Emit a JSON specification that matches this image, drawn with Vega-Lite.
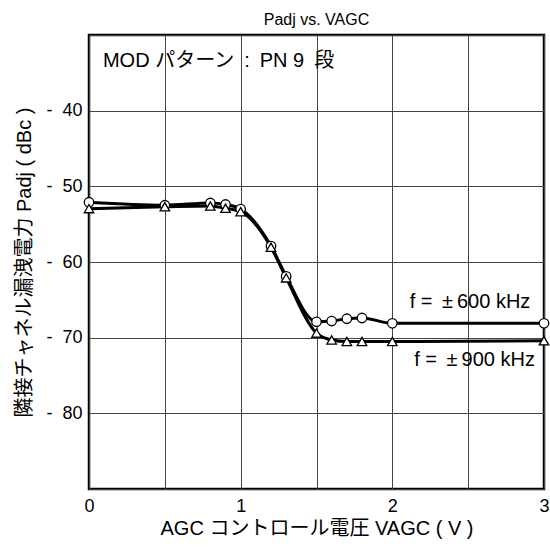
{
  "$schema": "https://vega.github.io/schema/vega-lite/v6.json",
  "autosize": {"type": "none"},
  "padding": {"left": 89, "top": 35, "right": 6, "bottom": 61},
  "width": 455,
  "height": 454,
  "title": {"text": "Padj vs. VAGC", "fontSize": 16, "fontWeight": "normal", "font": "Liberation Sans", "color": "#000", "offset": 7},
  "config": {
    "font": "Liberation Sans, Noto Sans CJK JP",
    "view": {"stroke": "#000", "strokeWidth": 2.5},
    "axis": {"domain": false, "ticks": false, "gridColor": "#444", "gridOpacity": 1, "gridWidth": 1, "labelFont": "Liberation Sans", "labelFontSize": 18, "labelColor": "#000", "titleFont": "Liberation Sans, Noto Sans CJK JP", "titleFontSize": 20, "titleFontWeight": "normal", "titleColor": "#000"}
  },
  "datasets": {
    "curves": [
      {"v": 0.0, "p": -52.1, "s": "600"},
      {"v": 0.5, "p": -52.5, "s": "600"},
      {"v": 0.8, "p": -52.2, "s": "600"},
      {"v": 0.9, "p": -52.4, "s": "600"},
      {"v": 1.0, "p": -53.0, "s": "600"},
      {"v": 1.2, "p": -57.9, "s": "600"},
      {"v": 1.3, "p": -61.9, "s": "600"},
      {"v": 1.5, "p": -67.9, "s": "600"},
      {"v": 1.6, "p": -67.8, "s": "600"},
      {"v": 1.7, "p": -67.5, "s": "600"},
      {"v": 1.8, "p": -67.4, "s": "600"},
      {"v": 2.0, "p": -68.1, "s": "600"},
      {"v": 3.0, "p": -68.1, "s": "600"},
      {"v": 0.0, "p": -52.95, "s": "900"},
      {"v": 0.5, "p": -52.7, "s": "900"},
      {"v": 0.8, "p": -52.6, "s": "900"},
      {"v": 0.9, "p": -52.9, "s": "900"},
      {"v": 1.0, "p": -53.35, "s": "900"},
      {"v": 1.2, "p": -58.05, "s": "900"},
      {"v": 1.3, "p": -62.1, "s": "900"},
      {"v": 1.5, "p": -69.4, "s": "900"},
      {"v": 1.6, "p": -70.3, "s": "900"},
      {"v": 1.7, "p": -70.5, "s": "900"},
      {"v": 1.8, "p": -70.5, "s": "900"},
      {"v": 2.0, "p": -70.5, "s": "900"},
      {"v": 3.0, "p": -70.4, "s": "900"}
    ],
    "rlabels": [
      {"v": 2.91, "p": -65.25, "t": "f = \u2009±\u2009600 kHz"},
      {"v": 2.94, "p": -73.0, "t": "f = \u2009±\u2009900 kHz"}
    ],
    "llabels": [
      {"v": 0.092, "p": -33.4, "t": "MOD パターン\u2002:\u2002PN 9\u2002段"}
    ]
  },
  "layer": [
    {
      "data": {"name": "curves"},
      "mark": {"type": "line", "interpolate": "monotone", "color": "#000", "strokeWidth": 3},
      "encoding": {
        "x": {"field": "v", "type": "quantitative", "scale": {"domain": [0, 3], "nice": false},
              "axis": {"values": [0, 0.5, 1, 1.5, 2, 2.5, 3], "labelExpr": "datum.value % 1 == 0 ? format(datum.value, 'd') : ''", "labelPadding": 8, "labelFlush": false, "title": "AGC コントロール電圧 VAGC ( V )", "titlePadding": 3}},
        "y": {"field": "p", "type": "quantitative", "scale": {"domain": [-90, -30], "nice": false},
              "axis": {"values": [-90, -80, -70, -60, -50, -40, -30], "labelExpr": "datum.value == -90 || datum.value == -30 ? '' : '- \u00a0' + abs(datum.value)", "labelPadding": 7, "title": "隣接チャネル漏洩電力 Padj ( dBc )", "titlePadding": 11}},
        "detail": {"field": "s"}
      }
    },
    {
      "data": {"name": "curves"},
      "mark": {"type": "point", "filled": true, "fill": "#fff", "stroke": "#000", "strokeWidth": 1.3, "opacity": 1, "size": 90},
      "encoding": {
        "x": {"field": "v", "type": "quantitative"},
        "y": {"field": "p", "type": "quantitative"},
        "shape": {"field": "s", "type": "nominal", "scale": {"domain": ["600", "900"], "range": ["circle", "triangle-up"]}, "legend": null}
      }
    },
    {
      "data": {"name": "rlabels"},
      "mark": {"type": "text", "fontSize": 20, "font": "Liberation Sans", "color": "#000", "baseline": "middle", "align": "right"},
      "encoding": {
        "x": {"field": "v", "type": "quantitative"},
        "y": {"field": "p", "type": "quantitative"},
        "text": {"field": "t"}
      }
    },
    {
      "data": {"name": "llabels"},
      "mark": {"type": "text", "fontSize": 20, "font": "Liberation Sans, Noto Sans CJK JP", "color": "#000", "baseline": "middle", "align": "left"},
      "encoding": {
        "x": {"field": "v", "type": "quantitative"},
        "y": {"field": "p", "type": "quantitative"},
        "text": {"field": "t"}
      }
    }
  ]
}
